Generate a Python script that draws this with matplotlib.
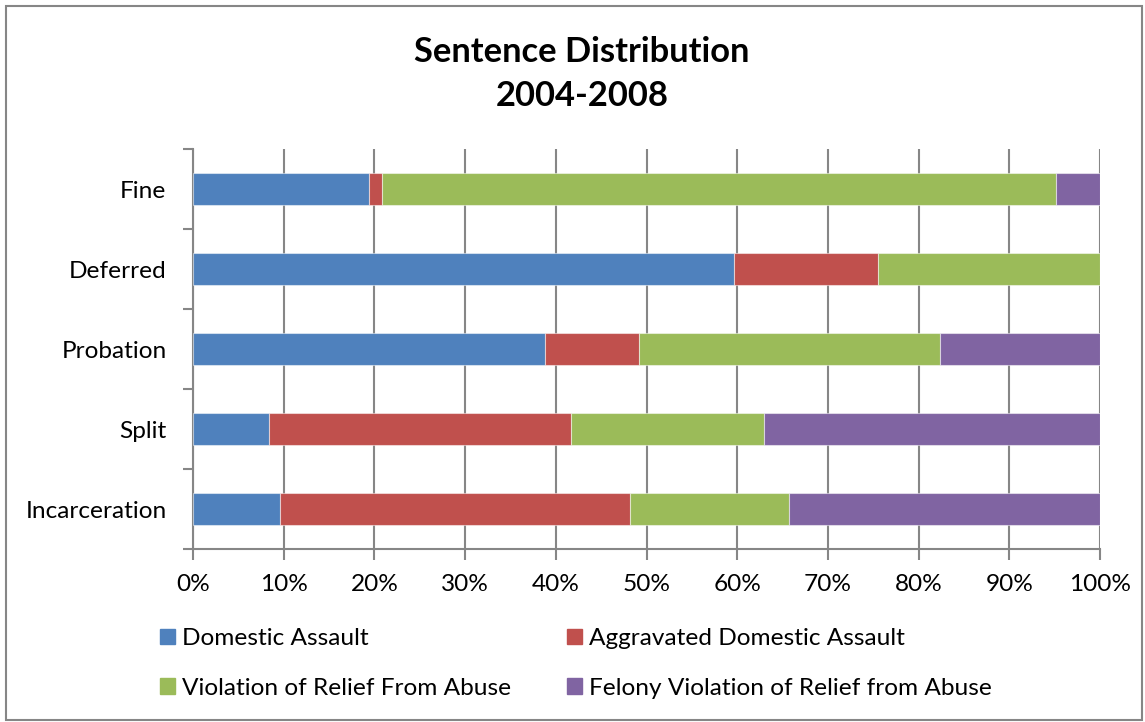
import matplotlib
matplotlib.use("Agg")
import matplotlib.pyplot as plt
from matplotlib.patches import Patch, Rectangle
from matplotlib.ticker import FixedLocator, PercentFormatter
import numpy as np

plt.rcParams["font.family"] = ["Lato", "DejaVu Sans"]

categories = ["Incarceration", "Split", "Probation", "Deferred", "Fine"]
series_names = ["Domestic Assault", "Aggravated Domestic Assault",
                "Violation of Relief From Abuse", "Felony Violation of Relief from Abuse"]
domestic     = [9.6, 8.4, 38.8, 59.6, 19.4]
aggravated   = [38.6, 33.3, 10.4, 15.9, 1.4]
violation    = [17.5, 21.3, 33.2, 24.5, 74.3]
felony_viol  = [34.3, 37.0, 17.6, 0.0, 4.9]
colors = ["#4F81BD", "#C0504D", "#9BBB59", "#8064A2"]

fig = plt.figure(figsize=(11.45, 7.22), dpi=100)
ax = fig.add_axes([193 / 1145, 1 - 549.3 / 722, 907 / 1145, 400 / 722])

# stacked horizontal bars, one segment per offence type
y = np.arange(len(categories))
left = np.zeros(len(categories))
for vals, col in zip([domestic, aggravated, violation, felony_viol], colors):
    vals = np.array(vals)
    ax.barh(y, vals, left=left, height=0.4, color=col,
            edgecolor=(1, 1, 1, 0.5), linewidth=0.8, zorder=3)
    left += vals

grid_c = "#868686"
ax.set_xlim(0, 100)
ax.set_ylim(-0.5, len(categories) - 0.5)
ax.xaxis.set_major_locator(FixedLocator(np.arange(0, 101, 10)))
ax.xaxis.set_major_formatter(PercentFormatter(decimals=0))
ax.grid(axis="x", color=grid_c, linewidth=1.5, zorder=0)
ax.set_yticks(y)
ax.set_yticklabels(categories)
ax.yaxis.set_minor_locator(FixedLocator(np.arange(-0.5, len(categories), 1)))
ax.tick_params(axis="y", which="major", length=0, pad=19, labelsize=17.6)
ax.tick_params(axis="y", which="minor", length=7, width=1.5, color=grid_c)
ax.tick_params(axis="x", length=8, width=1.5, color=grid_c, labelsize=17.6, pad=10)
for s in ["top", "right"]:
    ax.spines[s].set_visible(False)
for s in ["left", "bottom"]:
    ax.spines[s].set_color(grid_c)
    ax.spines[s].set_linewidth(1.5)

fig.text(582 / 1145, 1 - 74 / 722, "Sentence Distribution\n2004-2008",
         ha="center", va="center", fontsize=24.8, fontweight="bold",
         linespacing=1.5)

handles = [Patch(color=colors[i]) for i in [0, 2, 1, 3]]
labels = [series_names[i] for i in [0, 2, 1, 3]]
fig.legend(handles, labels, ncol=2, loc="upper left",
           bbox_to_anchor=(160 / 1145, 1 - 628 / 722), frameon=False,
           borderpad=0, borderaxespad=0,
           fontsize=17.6, handlelength=0.6, handleheight=0.6, handletextpad=0.3,
           columnspacing=2.3, labelspacing=1.18)

fig.add_artist(Rectangle((6 / 1145, 2 / 722), 1136 / 1145, 714 / 722,
                         transform=fig.transFigure, fill=False,
                         edgecolor="#868686", linewidth=1.5))

fig.savefig("out.png", dpi=100)
